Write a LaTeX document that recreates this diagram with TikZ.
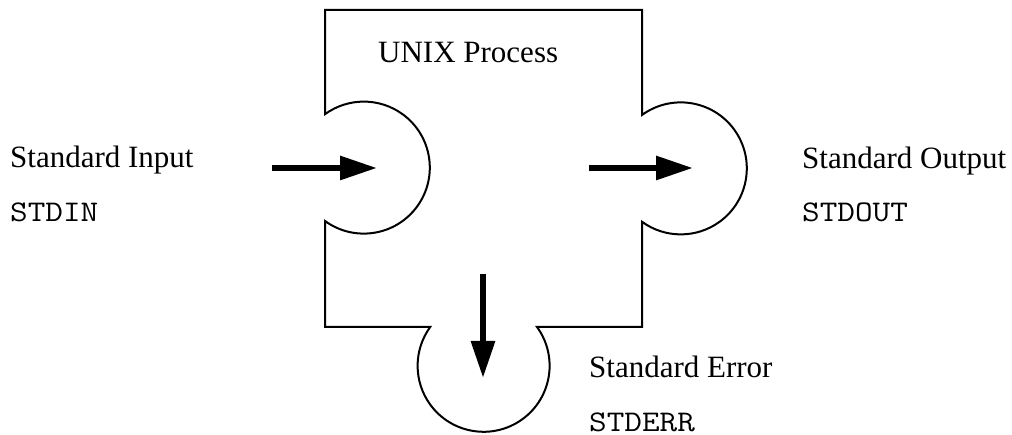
\documentclass[tikz,border=0pt]{standalone}
\usepackage{fontspec}
\setmainfont{Liberation Serif}
\newfontfamily\streamfont[FakeStretch=1.14]{Latin Modern Mono}
\usetikzlibrary{arrows.meta}
\begin{document}
\begin{tikzpicture}[x=1pt,y=1pt,
  label/.style={anchor=base west,inner sep=0pt,font=\fontsize{31}{36}\selectfont},
  stream/.style={anchor=base west,inner sep=0pt,font=\fontsize{30}{34}\streamfont},
  flow/.style={line width=6pt,-{Triangle[length=37pt,width=23pt]}},
  outline/.style={draw=black,line width=2pt,line join=miter}]
\useasboundingbox (0,0) rectangle (1012,435);

% process body with three stream ports
\draw[outline] (325,425) -- (642,425) -- (642,320)
  arc[start angle=126,end angle=-126,radius=66]
  -- (642,108) -- (537,108)
  arc[start angle=36,end angle=-216,radius=66]
  -- (325,108) -- (325,214)
  arc[start angle=-126,end angle=126,radius=66]
  -- cycle;

\node[label] (proc) at (378,372) {UNIX Process};

% standard input
\node[label] (inlbl) at (10,267) {Standard Input};
\node[stream] (stdin) at (10,213) {STDIN};
\coordinate (inA) at (272,267);
\coordinate (inB) at (377,267);
\draw[flow] (inA) -- (inB);

% standard output
\node[label] (outlbl) at (802,266) {Standard Output};
\node[stream] (stdout) at (802,213) {STDOUT};
\coordinate (outA) at (589,267);
\coordinate (outB) at (693,267);
\draw[flow] (outA) -- (outB);

% standard error
\node[label] (errlbl) at (589,57) {Standard Error};
\node[stream] (stderr) at (589,3) {STDERR};
\coordinate (errA) at (483,161);
\coordinate (errB) at (483,57);
\draw[flow] (errA) -- (errB);
\end{tikzpicture}
\end{document}
